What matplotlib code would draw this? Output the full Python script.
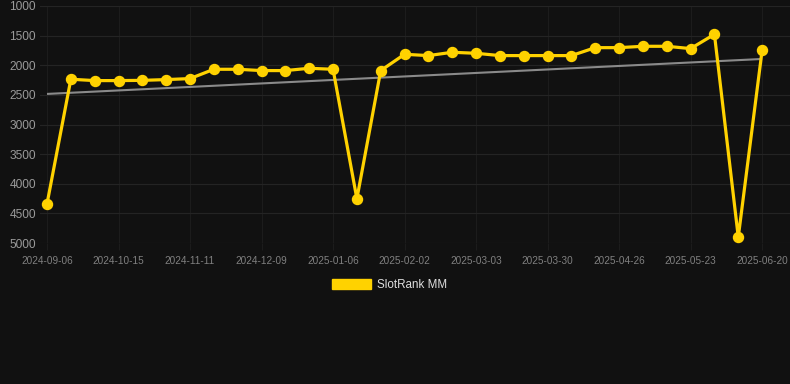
import matplotlib
matplotlib.use('Agg')
import matplotlib.pyplot as plt
from matplotlib.patches import Patch
import numpy as np

plt.rcParams.update({
    'font.family': ['Liberation Sans', 'DejaVu Sans'],
    'axes.unicode_minus': False,
})

# ── data ──
DATES = ['2024-09-06', '', '', '2024-10-15', '', '', '2024-11-11', '', '',
         '2024-12-09', '', '', '2025-01-06', '', '', '2025-02-02', '', '',
         '2025-03-03', '', '', '2025-03-30', '', '', '2025-04-26', '', '',
         '2025-05-23', '', '', '2025-06-20']
RANK = [4340, 2236, 2259, 2259, 2255, 2242, 2225, 2068, 2068, 2090, 2090,
        2051, 2068, 4254, 2090, 1815, 1837, 1781, 1798, 1837, 1837, 1837,
        1837, 1703, 1703, 1680, 1680, 1719, 1478, 4900, 1748]
TREND = [2484, 1894]   # start / end of the grey trend line
SERIES_NAME = 'SlotRank MM'

BG = '#111111'
GOLD = '#FFD200'

fig = plt.figure(figsize=(7.9, 3.84), dpi=100, facecolor=BG)
ax = fig.add_axes([40 / 790, 1 - 243 / 384, 750 / 790, 237 / 384])
ax.set_facecolor(BG)

x = np.arange(len(RANK))
ax.plot([x[0], x[-1]], TREND, color='#8a8a8a', linewidth=1.5, zorder=2,
        solid_capstyle='butt')
ax.plot(x, RANK, color=GOLD, linewidth=2.3, marker='o', markersize=7.2,
        solid_joinstyle='miter', zorder=3, clip_on=False)

ax.set_ylim(5000, 1000)
ax.set_yticks(np.arange(1000, 5001, 500))
ax.set_xlim(-0.294, 31.17)
tick_idx = [i for i, d in enumerate(DATES) if d]
ax.set_xticks(tick_idx)
ax.set_xticklabels([DATES[i] for i in tick_idx])

ax.grid(True, axis='y', color='#242424', linewidth=0.8)
ax.grid(True, axis='x', color='#1c1c1c', linewidth=0.8)
ax.set_axisbelow(True)
for s in ax.spines.values():
    s.set_visible(False)
ax.tick_params(axis='y', length=0, pad=3, labelsize=8.6, labelcolor='#9a9a9a')
ax.tick_params(axis='x', length=5, color='#1c1c1c', pad=4, labelsize=7.2,
               labelcolor='#808080')

handle = Patch(facecolor=GOLD, edgecolor=GOLD)
fig.legend([handle], [SERIES_NAME], loc='center', bbox_to_anchor=(389.5 / 790, 1 - 285 / 384),
           frameon=False, handlelength=3.4, handleheight=1.0, handletextpad=0.5,
           fontsize=8.4, labelcolor='#dddddd')

fig.savefig('out.png', dpi=100, facecolor=BG)
